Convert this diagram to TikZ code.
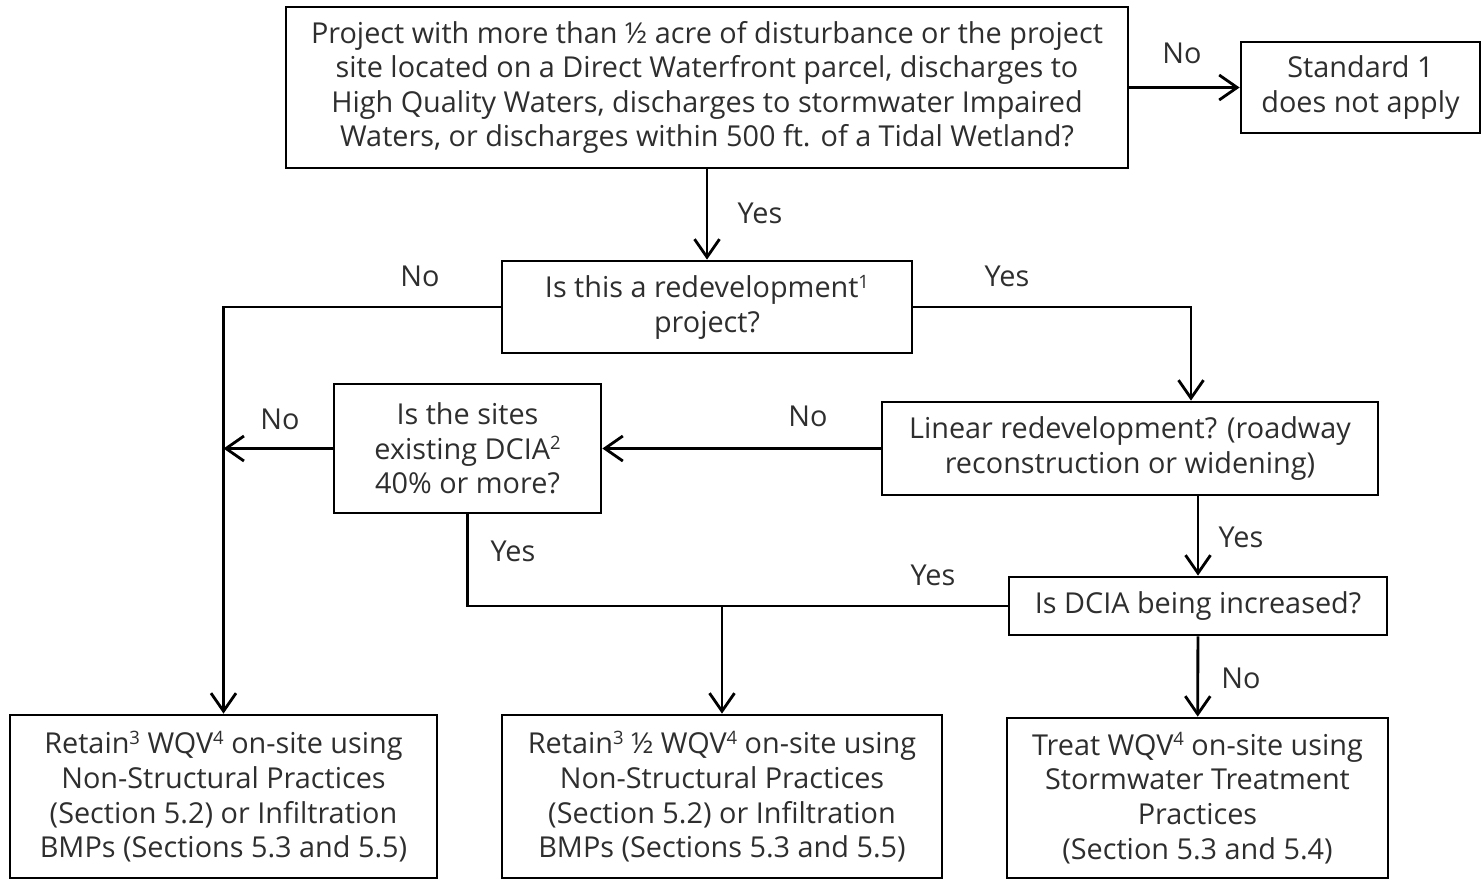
\documentclass[tikz,border=0pt]{standalone}
\usepackage{fontspec}
\setmainfont{Open Sans}
\usepackage{xcolor}
\usetikzlibrary{arrows.meta, positioning}
\definecolor{txtgray}{HTML}{2E2E2E}
\newcommand{\fnref}[1]{\raisebox{0.62ex}{\fontsize{10.5}{10.5}\selectfont #1}}

\begin{document}
\begin{tikzpicture}[
        x=0.02cm, y=-0.02cm,
        >={Straight Barb[length=3.6mm, width=5mm]},
        box/.style={
            draw,
            line width=1.6pt,
            inner sep=0pt,
            align=center,
            text=txtgray
        },
        arr/.style={
            ->,
            line width=1.6pt
        },
        lbl/.style={
            text=txtgray
        },
        every node/.style={font=\fontsize{16.4}{19.7}\selectfont}
    ]
        \useasboundingbox (0,0) rectangle (1483,880);

        % decision boxes
        \node[box, minimum width=16.84cm, minimum height=3.22cm] (project) at (707,87.5)
            {Project with more than ½ acre of disturbance or the project\\
             site located on a Direct Waterfront parcel, discharges to\\
             High Quality Waters, discharges to stormwater Impaired\\
             Waters, or discharges within 500 ft. of a Tidal Wetland?};
        \node[box, minimum width=4.78cm, minimum height=1.82cm] (noapply) at (1360.5,87.5)
            {Standard 1\\does not apply};
        \node[box, minimum width=8.2cm, minimum height=1.84cm] (redev) at (707,307)
            {Is this a redevelopment\fnref{1}\\project?};
        \node[box, minimum width=5.34cm, minimum height=2.58cm] (existing) at (467.5,448.5)
            {Is the sites\\existing DCIA\fnref{2}\\40\% or more?};
        \node[box, minimum width=9.92cm, minimum height=1.86cm] (linear) at (1130,448.5)
            {Linear redevelopment? (roadway\\reconstruction or widening)};
        \node[box, minimum width=7.56cm, minimum height=1.16cm] (increased) at (1198,606)
            {Is DCIA being increased?};

        % outcome boxes
        \node[box, minimum width=8.54cm, minimum height=3.26cm] (retainfull) at (223.5,796.5)
            {Retain\fnref{3} WQV\fnref{4} on-site using\\Non-Structural Practices\\(Section 5.2) or Infiltration\\BMPs (Sections 5.3 and 5.5)};
        \node[box, minimum width=8.8cm, minimum height=3.26cm] (retainhalf) at (722,796.5)
            {Retain\fnref{3} ½ WQV\fnref{4} on-site using\\Non-Structural Practices\\(Section 5.2) or Infiltration\\BMPs (Sections 5.3 and 5.5)};
        \node[box, minimum width=7.62cm, minimum height=3.2cm] (treat) at (1197.5,798)
            {Treat WQV\fnref{4} on-site using\\Stormwater Treatment\\Practices\\(Section 5.3 and 5.4)};

        % connectors
        \draw[arr] (project) -- (noapply);
        \draw[arr] (project) -- (redev);
        \draw[arr] (redev.west) -| (retainfull.north);
        \draw[arr] (redev.east) -| ([xshift=1.22cm]linear.north);
        \draw[arr] (linear.west) -- (existing.east);
        \draw[arr] (existing.west) -- (existing.west -| retainfull.north);
        \draw[line width=1.6pt] (existing.south) |- (increased.west);
        \draw[arr] (retainhalf.north |- increased.west) -- (retainhalf.north);
        \draw[arr] (increased.north |- linear.south) -- (increased.north);
        \draw[arr] (increased) -- (treat);

        % labels
        \node[lbl] (no1) at (1182,53) {No};
        \node[lbl] (yes1) at (760,213) {Yes};
        \node[lbl] (no2) at (420,276) {No};
        \node[lbl] (yes2) at (1007,276) {Yes};
        \node[lbl] (no3) at (808,416) {No};
        \node[lbl] (no4) at (280,419) {No};
        \node[lbl] (yes3) at (513,551) {Yes};
        \node[lbl] (yes4) at (933,575) {Yes};
        \node[lbl] (yes5) at (1241,537) {Yes};
        \node[lbl] (no5) at (1241,678) {No};

    \end{tikzpicture}
\end{document}
